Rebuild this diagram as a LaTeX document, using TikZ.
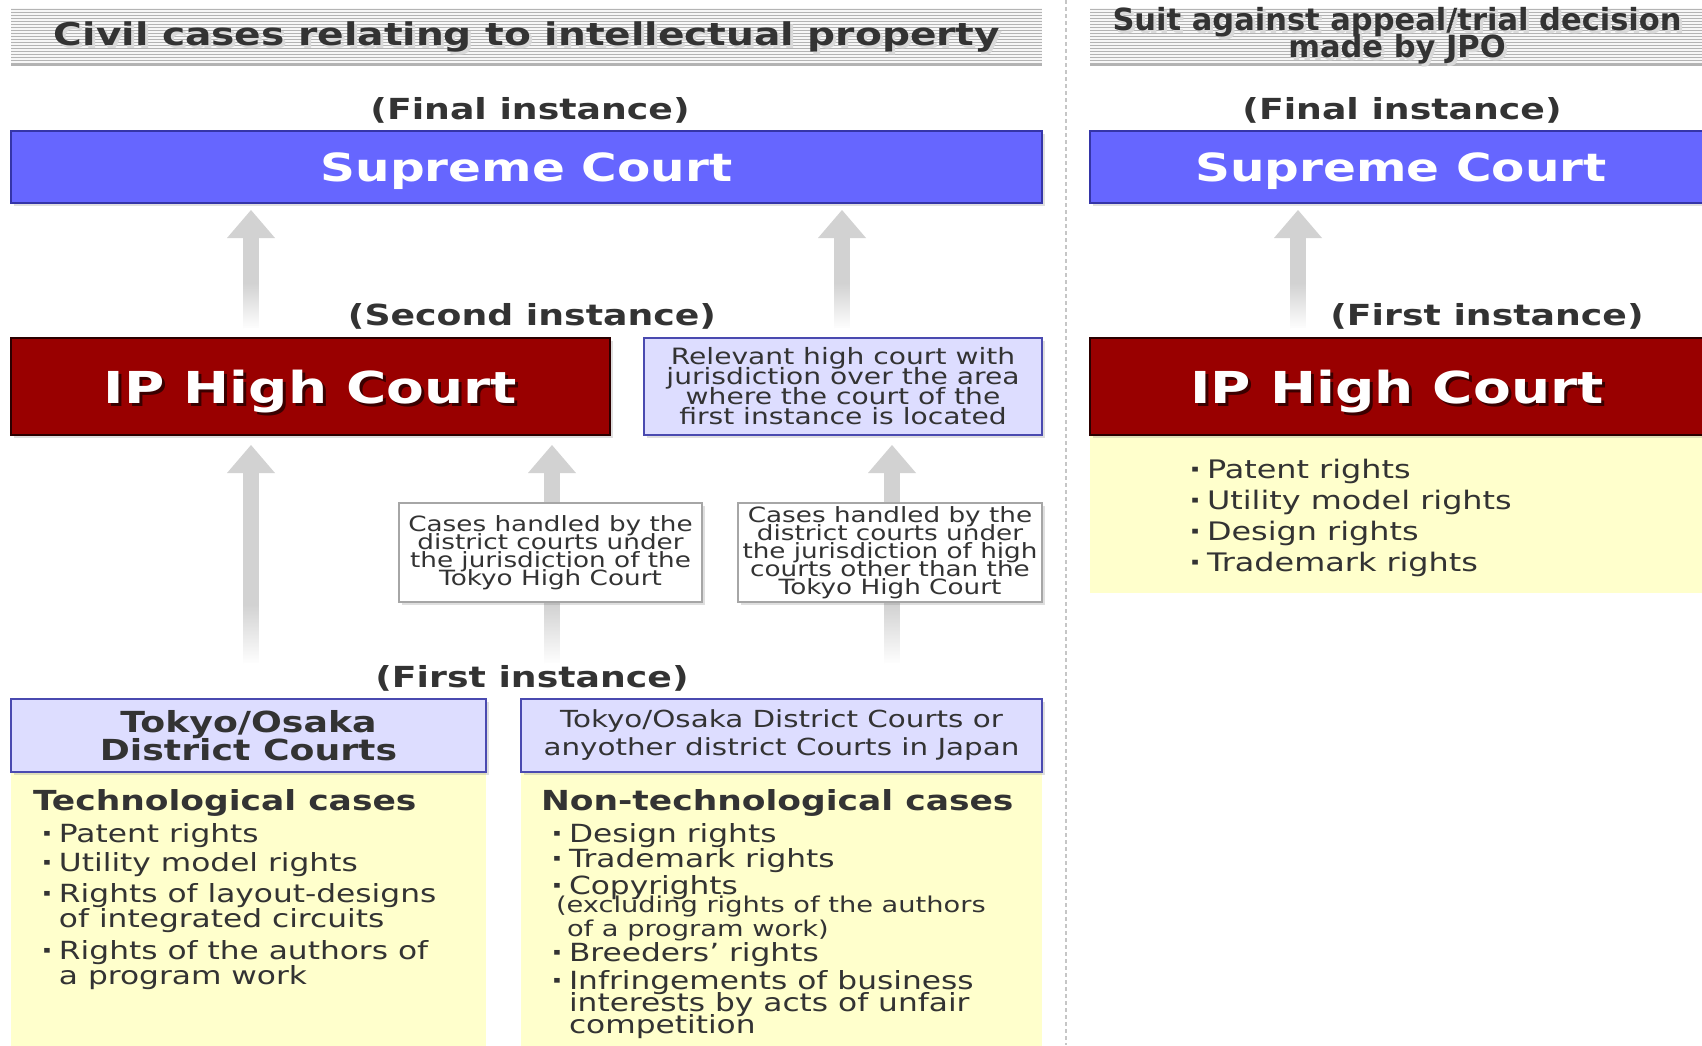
\documentclass[tikz,border=0pt]{standalone}
\usepackage{fontspec}
\setmainfont{DejaVu Sans}[FakeStretch=1.25]
\newfontfamily\plainwidth{DejaVu Sans}
\usepackage{xcolor}
\usetikzlibrary{positioning, calc, arrows.meta, shadows, fadings, backgrounds}

\definecolor{supblue}{HTML}{6666FF}
\definecolor{supedge}{HTML}{3535A8}
\definecolor{hcred}{HTML}{990000}
\definecolor{hcedge}{HTML}{2B0000}
\definecolor{hcshade}{HTML}{3A0000}
\definecolor{lavfill}{HTML}{DDDDFF}
\definecolor{lavedge}{HTML}{4A4AB0}
\definecolor{paleyellow}{HTML}{FFFFCC}
\definecolor{arrowgray}{HTML}{D2D2D2}
\definecolor{inkgray}{HTML}{333333}
\definecolor{stripegray}{HTML}{B4B4B4}

% white veil over the arrow tails: clear at the top, solid at the bottom
\tikzfading[name=tailfade, top color=transparent!100, bottom color=transparent!0]

\setlength{\lineskiplimit}{-100pt}
\newcommand{\fsz}[2]{\fontsize{#1}{#2}\selectfont}
\newcommand{\bul}{\makebox[18pt][l]{\textbf{·}}}
\newcommand{\ind}{\hspace*{18pt}}
\newcommand{\shadowed}[2]{\makebox[0pt][l]{\hspace*{3pt}\raisebox{-3pt}{\textcolor{#1}{#2}}}#2}

\begin{document}
\begin{tikzpicture}[
  x=1pt, y=-1pt,
  every node/.style={inner sep=0pt, outer sep=0pt, text=inkgray},
  courtbox/.style={draw, line width=1.6pt, anchor=north west,
    drop shadow={shadow xshift=3pt, shadow yshift=-3pt, opacity=0.25}},
  supbox/.style={courtbox, fill=supblue, draw=supedge, minimum height=72pt,
    text=white, text depth=0pt, font=\bfseries\fsz{38.8}{40}},
  hcbox/.style={courtbox, fill=hcred, draw=hcedge, minimum height=97pt,
    text=white, text depth=0pt, font=\bfseries\fsz{44}{46}},
  lavbox/.style={courtbox, fill=lavfill, draw=lavedge, align=center},
  notebox/.style={courtbox, fill=white, draw=gray!70, line width=1.2pt,
    minimum width=303pt, minimum height=99pt, align=center, font=\fsz{21}{18}},
  panel/.style={fill=paleyellow, anchor=north west},
  tierlabel/.style={font=\bfseries\fsz{29}{30}},
  listtext/.style={anchor=north west, align=left},
  uparrow/.style={draw=arrowgray, line width=16pt,
    -{Triangle[width=48pt, length=28pt, line width=0pt]}},
  stripe/.style={stripegray, line width=1pt},
]
\useasboundingbox (0,0) rectangle (1702,1045);

% ---- 1. striped headers ----
\fill[gray!6] (11,8) rectangle (1042,66);
\fill[gray!6] (1090,8) rectangle (1702,66);
\foreach \yy in {9,12,...,63} {
  \draw[stripe] (11,\yy) -- (1042,\yy);
  \draw[stripe] (1090,\yy) -- (1702,\yy);
}
\draw[gray!60, line width=1.5pt] (11,65) -- (1042,65);
\draw[gray!60, line width=1.5pt] (1090,65) -- (1702,65);

\node[font=\bfseries\fsz{31.3}{32}] (headL) at (527,38)
  {\shadowed{gray!30}{Civil cases relating to intellectual property}};
\node[font=\plainwidth\bfseries\fsz{30.5}{27}, align=center] (headR) at (1397,37)
  {\shadowed{gray!30}{Suit against appeal/trial decision}\\
   \shadowed{gray!30}{made by JPO}};

% ---- 2. dashed divider ----
\coordinate (divTop) at (1066,0);
\coordinate (divBot) at (1066,1045);
\draw[gray!45, line width=1.5pt, dash pattern=on 4pt off 3pt] (divTop) -- (divBot);

% ---- 3. instance labels ----
\node[tierlabel] (finalL)  at (530,110) {(Final instance)};
\node[tierlabel] (finalR)  at (1402,110) {(Final instance)};
\node[tierlabel] (secondL) at (532,316) {(Second instance)};
\node[tierlabel] (firstR)  at (1487,316) {(First instance)};
\node[tierlabel] (firstL)  at (532,678) {(First instance)};

% ---- 4. yellow case panels ----
\node[panel, minimum width=614pt, minimum height=158pt] (ipPanel) at (1090,435) {};
\node[panel, minimum width=475pt, minimum height=280pt] (techPanel) at (11,772) {};
\node[panel, minimum width=521pt, minimum height=280pt] (nontechPanel) at (521,772) {};

% ---- 5. courts ----
\node[supbox, minimum width=1031pt] (supL) at (11,131) {Supreme Court};
\node[supbox, minimum width=622pt] (supR) at (1090,131) {Supreme Court};

\node[hcbox, minimum width=599pt] (iphcL) at (11,338) {\shadowed{hcshade}{IP High Court}};
\node[hcbox, minimum width=614pt] (iphcR) at (1090,338) {\shadowed{hcshade}{IP High Court}};

\node[lavbox, minimum width=398pt, minimum height=97pt, font=\fsz{22.5}{20}] (relhc) at (644,338)
  {Relevant high court with\\jurisdiction over the area\\where the court of the\\first instance is located};

\node[notebox] (casesTk) at (399,503)
  {Cases handled by the\\district courts under\\the jurisdiction of the\\Tokyo High Court};
\node[notebox, minimum width=304pt] (casesOth) at (738,503)
  {Cases handled by the\\district courts under\\the jurisdiction of high\\courts other than the\\Tokyo High Court};

\node[lavbox, minimum width=475pt, minimum height=73pt, font=\bfseries\fsz{29}{28}] (distTk) at (11,699)
  {Tokyo/Osaka\\District Courts};
\node[lavbox, minimum width=521pt, minimum height=73pt, font=\fsz{23.5}{28}] (distAny) at (521,699)
  {Tokyo/Osaka District Courts or\\anyother district Courts in Japan};

% ---- 6. case lists ----
\node[listtext, font=\fsz{25}{25}] (techList) at (33,790)
  {{\bfseries\fsz{27.6}{25}Technological cases}\\[7pt]
   \hspace*{8pt}\bul Patent rights\\[4pt]
   \hspace*{8pt}\bul Utility model rights\\[6pt]
   \hspace*{8pt}\bul Rights of layout-designs\\
   \hspace*{8pt}\ind of integrated circuits\\[7pt]
   \hspace*{8pt}\bul Rights of the authors of\\
   \hspace*{8pt}\ind a program work};

\node[listtext, font=\fsz{25}{22}] (nontechList) at (541,790)
  {{\bfseries\fsz{27.6}{25}Non-technological cases}\\[10pt]
   \hspace*{10pt}\bul Design rights\\[3pt]
   \hspace*{10pt}\bul Trademark rights\\[5pt]
   \hspace*{10pt}\bul Copyrights\\[-4pt]
   \hspace*{15pt}{\fsz{21.8}{22}(excluding rights of the authors}\\[2pt]
   \hspace*{26pt}{\fsz{21.8}{22}of a program work)}\\[3pt]
   \hspace*{10pt}\bul Breeders' rights\\[6pt]
   \hspace*{10pt}\bul Infringements of business\\
   \hspace*{10pt}\ind interests by acts of unfair\\
   \hspace*{10pt}\ind competition};

\node[listtext, font=\fsz{25.5}{31}] (ipList) at (1189,459)
  {\bul Patent rights\\ \bul Utility model rights\\ \bul Design rights\\ \bul Trademark rights};

% ---- 7. appeal arrows, under the boxes ----
\pgfmathsetmacro{\colTk}{251}
\pgfmathsetmacro{\colMid}{552}
\pgfmathsetmacro{\colRel}{842}
\pgfmathsetmacro{\colOth}{892}
\pgfmathsetmacro{\colJpo}{1298}
\coordinate (colTk)  at (\colTk,0);
\coordinate (colMid) at (\colMid,0);
\coordinate (colRel) at (\colRel,0);
\coordinate (colOth) at (\colOth,0);
\coordinate (colJpo) at (\colJpo,0);

\begin{scope}[on background layer]
\fill[white] (0,0) rectangle (1702,1045);
\draw[uparrow, shorten >=7pt, shorten <=10pt] (iphcL.north -| colTk) -- (supL.south -| colTk);
\draw[uparrow, shorten >=7pt, shorten <=10pt] (relhc.north -| colRel) -- (supL.south -| colRel);
\draw[uparrow, shorten >=7pt, shorten <=10pt] (iphcR.north -| colJpo) -- (supR.south -| colJpo);
\draw[uparrow, shorten >=10pt, shorten <=36pt] (distTk.north -| colTk) -- (iphcL.south -| colTk);
\draw[uparrow, shorten >=10pt, shorten <=36pt] (distAny.north -| colMid) -- (iphcL.south -| colMid);
\draw[uparrow, shorten >=10pt, shorten <=36pt] (distAny.north -| colOth) -- (relhc.south -| colOth);

% fade the tails out
\foreach \src/\col in {iphcL/colTk, relhc/colRel, iphcR/colJpo}
  \fill[white, path fading=tailfade] ($(\src.north -| \col)+(-10,-55)$) rectangle ($(\src.north -| \col)+(10,-9)$);
\foreach \src/\col in {distTk/colTk, distAny/colMid, distAny/colOth}
  \fill[white, path fading=tailfade] ($(\src.north -| \col)+(-10,-95)$) rectangle ($(\src.north -| \col)+(10,-35)$);
\end{scope}

\end{tikzpicture}
\end{document}
